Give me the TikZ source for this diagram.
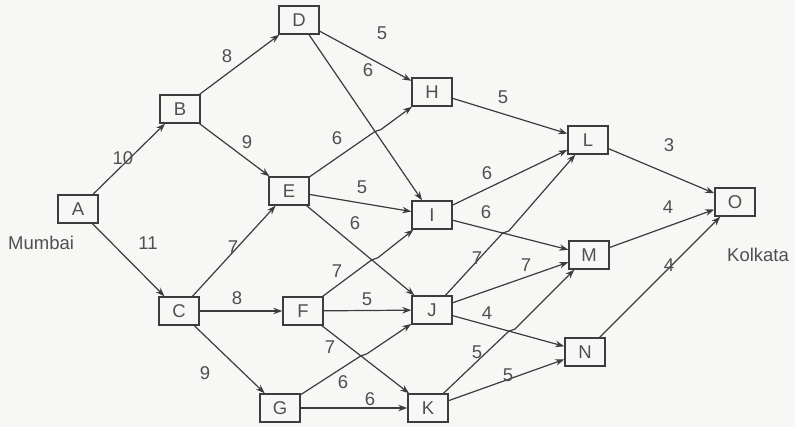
\documentclass[tikz,border=0pt]{standalone}
\usepackage{fontspec}
\setmainfont{Liberation Sans}
\usetikzlibrary{arrows.meta,calc}
\definecolor{ln}{RGB}{60,60,60}
\definecolor{tx}{RGB}{80,80,80}
\definecolor{bg}{RGB}{247,247,245}
\newcommand{\hopedge}[4]{%
  \coordinate (hx) at (intersection of #1--#2 and #3--#4);
  \draw[edge] (#1) -- (hx) -- ++(6,-2) -- (#2);
}
\begin{document}
\begin{tikzpicture}[x=1pt,y=-1pt,
  box/.style={draw=ln, line width=1.4pt, fill=bg, minimum width=40pt, minimum height=28pt, inner sep=0pt, font=\fontsize{18.5}{18.5}\selectfont, text=tx},
  edge/.style={draw=ln, line width=1.2pt, -{Stealth[length=9pt,width=6.5pt]}},
  lbl/.style={font=\fontsize{18.5}{18.5}\selectfont, text=tx, inner sep=0pt}]
\fill[bg] (0,0) rectangle (795,427);
\useasboundingbox (0,0) rectangle (795,427);

\node[box] (A) at (78,209) {A};
\node[box] (B) at (180,109) {B};
\node[box] (C) at (179,311) {C};
\node[box] (D) at (299,20) {D};
\node[box] (E) at (289,191) {E};
\node[box] (F) at (303,311) {F};
\node[box] (G) at (280,408) {G};
\node[box] (H) at (432,92) {H};
\node[box] (I) at (432,215) {I};
\node[box] (J) at (432,310) {J};
\node[box] (K) at (428,408) {K};
\node[box] (L) at (588,140) {L};
\node[box] (M) at (589,255) {M};
\node[box] (N) at (585,352) {N};
\node[box] (O) at (735,202) {O};

\node[lbl, anchor=west] (mum) at (8,243) {Mumbai};
\node[lbl, anchor=west] (kol) at (727,255) {Kolkata};

\draw[edge] (A) -- (B);
\draw[edge] (A) -- (C);
\draw[edge] (B) -- (D);
\draw[edge] (B) -- (E);
\draw[edge] (C) -- (E);
\draw[edge] (C) -- (F);
\draw[edge] (C) -- (G);
\draw[edge] (D) -- (H);
\draw[edge] (D) -- (I);
\hopedge{E}{H}{D}{I}
\draw[edge] (E) -- (I);
\draw[edge] (E) -- (J);
\hopedge{F}{I}{E}{J}
\draw[edge] (F) -- (J);
\draw[edge] (F) -- (K);
\hopedge{G}{J}{F}{K}
\draw[edge] (G) -- (K);
\draw[edge] (H) -- (L);
\draw[edge] (I) -- (L);
\draw[edge] (I) -- (M);
\hopedge{J}{L}{I}{M}
\draw[edge] (J) -- (M);
\draw[edge] (J) -- (N);
\hopedge{K}{M}{J}{N}
\draw[edge] (K) -- (N);
\draw[edge] (L) -- (O);
\draw[edge] (M) -- (O);
\draw[edge] (N) -- (O);

\node[lbl] (l1) at (123,158) {10};
\node[lbl] (l2) at (148,243) {11};
\node[lbl] (l3) at (227,56) {8};
\node[lbl] (l4) at (247,142) {9};
\node[lbl] (l5) at (233,247) {7};
\node[lbl] (l6) at (237,298) {8};
\node[lbl] (l7) at (205,373) {9};
\node[lbl] (l8) at (382,33) {5};
\node[lbl] (l9) at (368,70) {6};
\node[lbl] (l10) at (337,138) {6};
\node[lbl] (l11) at (362,187) {5};
\node[lbl] (l12) at (355,223) {6};
\node[lbl] (l13) at (337,271) {7};
\node[lbl] (l14) at (367,299) {5};
\node[lbl] (l15) at (330,347) {7};
\node[lbl] (l16) at (343,382) {6};
\node[lbl] (l17) at (370,399) {6};
\node[lbl] (l18) at (503,97) {5};
\node[lbl] (l19) at (487,173) {6};
\node[lbl] (l20) at (486,212) {6};
\node[lbl] (l21) at (477,258) {7};
\node[lbl] (l22) at (526,265) {7};
\node[lbl] (l23) at (487,313) {4};
\node[lbl] (l24) at (477,352) {5};
\node[lbl] (l25) at (508,375) {5};
\node[lbl] (l26) at (669,145) {3};
\node[lbl] (l27) at (668,207) {4};
\node[lbl] (l28) at (669,265) {4};
\end{tikzpicture}
\end{document}
